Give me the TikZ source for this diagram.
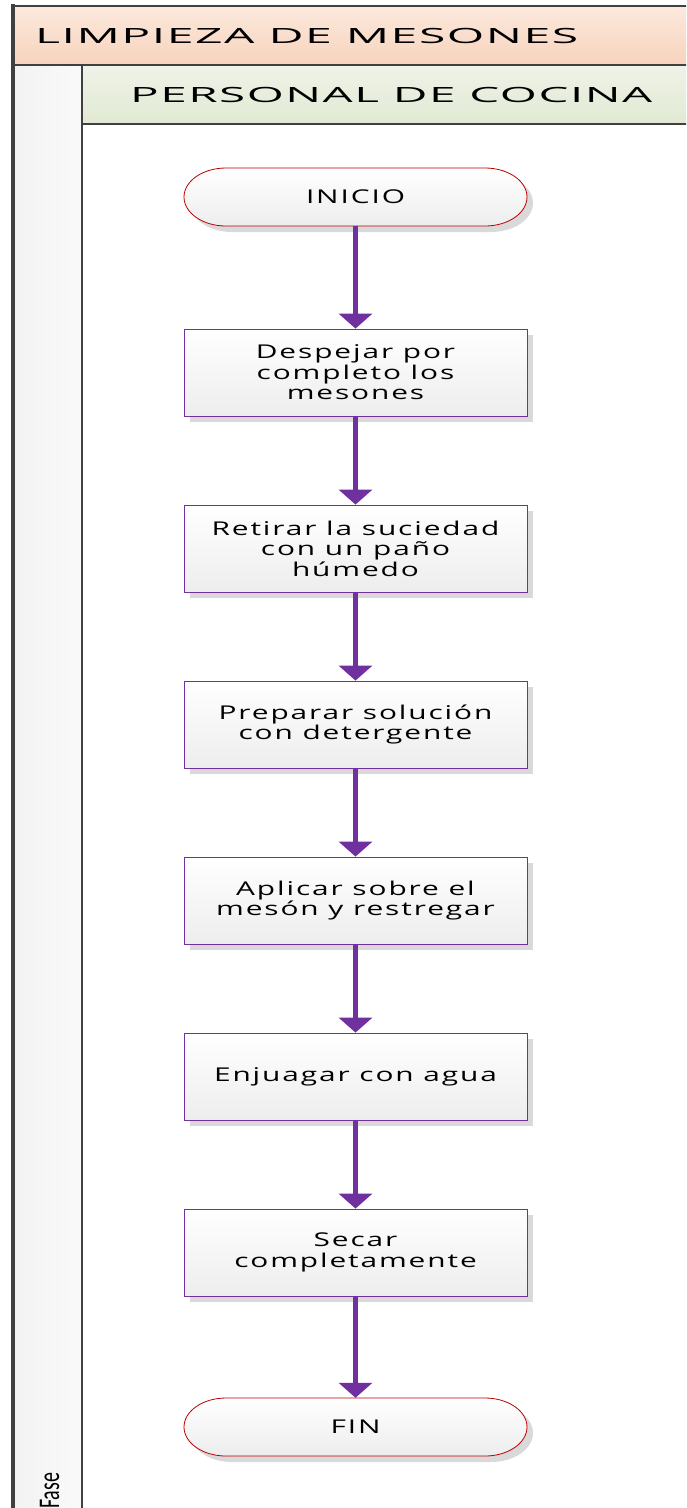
\documentclass[tikz,border=0pt]{standalone}
\usepackage{fontspec}
\usepackage{graphicx}
\usetikzlibrary{arrows.meta,shadows,calc}
\setmainfont{Open Sans}
\newfontfamily\headfont[FakeStretch=1.9,LetterSpace=6]{Open Sans}
\newfontfamily\boxfont[FakeStretch=1.57,LetterSpace=10]{Open Sans}
\newfontfamily\phasefont{Carlito}

\definecolor{frameline}{HTML}{404040}
\definecolor{peachtop}{HTML}{FCE9DD}
\definecolor{peachbot}{HTML}{F7D3BD}
\definecolor{greentop}{HTML}{EFF3E8}
\definecolor{greenbot}{HTML}{E1E9D3}
\definecolor{flowpurple}{HTML}{7030A0}
\definecolor{termred}{HTML}{C00000}
\definecolor{boxbot}{HTML}{EDEDED}
\definecolor{shadowgray}{HTML}{D9D9D9}

\tikzset{
  stepfont/.style={font=\boxfont\fontsize{19pt}{20.5pt}\selectfont},
  procbox/.style={rectangle, draw=flowpurple, line width=0.8pt,
    minimum width=343pt, minimum height=87pt, inner sep=0pt,
    top color=white, bottom color=boxbot, align=center, stepfont,
    drop shadow={shadow xshift=6pt, shadow yshift=-6pt, fill=shadowgray, opacity=1}},
  termtext/.style={rectangle, minimum width=343pt, minimum height=58pt,
    inner sep=0pt, align=center, stepfont},
  flow/.style={draw=flowpurple, line width=5pt,
    -{Triangle[width=33pt,length=15pt]}},
  frame/.style={draw=frameline, line cap=rect}
}

% terminal: flat top and bottom with elliptic ends; #1 name, #2 centre, #3 text
\newcommand\terminal[3]{%
  \path[fill=shadowgray] ($(#2)+(-123.5pt,23pt)$) -- ++(259pt,0)
    arc[start angle=90, end angle=-90, x radius=42pt, y radius=29pt]
    -- ++(-259pt,0)
    arc[start angle=270, end angle=90, x radius=42pt, y radius=29pt] -- cycle;
  \path[top color=white, bottom color=boxbot, draw=termred, line width=0.8pt]
    ($(#2)+(-129.5pt,29pt)$) -- ++(259pt,0)
    arc[start angle=90, end angle=-90, x radius=42pt, y radius=29pt]
    -- ++(-259pt,0)
    arc[start angle=270, end angle=90, x radius=42pt, y radius=29pt] -- cycle;
  \node[termtext] (#1) at (#2) {#3};
}

\begin{document}
\begin{tikzpicture}[x=1pt,y=-1pt]
\useasboundingbox (0,0) rectangle (686,1508);
\clip (0,0) rectangle (686,1508);

% pool header, lane header and phase column
\shade[top color=peachtop, bottom color=peachbot] (13,6) rectangle (700,65);
\shade[top color=greentop, bottom color=greenbot] (82,65) rectangle (700,124);
\shade[left color=white!95!black, right color=white!98!black] (13,65) rectangle (82,1520);

\draw[frame, line width=3.5pt] (13,6) -- (13,1520);
\draw[frame, line width=2pt] (13,6) -- (700,6);
\draw[frame, line width=2pt] (13,65) -- (700,65);
\draw[frame, line width=2.5pt] (82,65) -- (82,1520);
\draw[frame, line width=1.5pt] (82,124) -- (700,124);

\node[anchor=base west, inner sep=0pt] (pool) at (35,43)
  {\resizebox{543pt}{\height}{\headfont\fontsize{21pt}{24pt}\selectfont LIMPIEZA DE MESONES}};
\node[anchor=base west, inner sep=0pt] (lane) at (130,102)
  {\resizebox{522pt}{\height}{\headfont\fontsize{21pt}{24pt}\selectfont PERSONAL DE COCINA}};
\node[rotate=90, anchor=base west, inner sep=0pt] (phase) at (59,1509)
  {\scalebox{1}[1.5]{\phasefont\fontsize{20pt}{22pt}\selectfont Fase}};

% flow steps
\terminal{inicio}{355.5,197}{INICIO}
\node[procbox] (s1) at (355.5,372.5) {Despejar por\\completo los\\mesones};
\node[procbox] (s2) at (355.5,548.5) {Retirar la suciedad\\con un paño\\húmedo};
\node[procbox] (s3) at (355.5,724.5) {Preparar solución\\con detergente};
\node[procbox] (s4) at (355.5,900.5) {Aplicar sobre el\\mesón y restregar};
\node[procbox] (s5) at (355.5,1076.5) {Enjuagar con agua};
\node[procbox] (s6) at (355.5,1252.5) {Secar\\completamente};
\terminal{fin}{355.5,1427}{FIN}

\draw[flow] (inicio) -- (s1);
\draw[flow] (s1) -- (s2);
\draw[flow] (s2) -- (s3);
\draw[flow] (s3) -- (s4);
\draw[flow] (s4) -- (s5);
\draw[flow] (s5) -- (s6);
\draw[flow] (s6) -- (fin);
\end{tikzpicture}
\end{document}
